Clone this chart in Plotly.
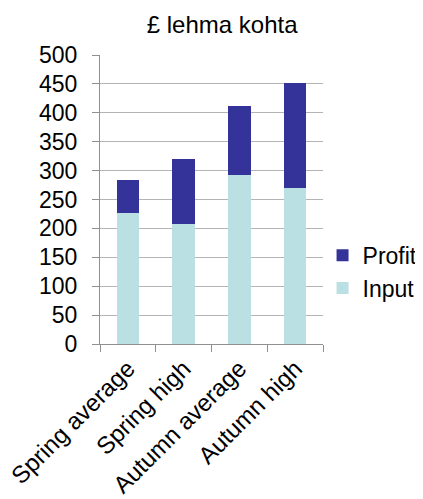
import plotly.graph_objects as go

categories = ["Spring average", "Spring high", "Autumn average", "Autumn high"]
input_vals = [226, 207, 292, 270]
profit_vals = [58, 113, 119, 182]
y_ticks = [0, 50, 100, 150, 200, 250, 300, 350, 400, 450, 500]

FONT = "Liberation Sans, Arial, sans-serif"

fig = go.Figure()
fig.add_trace(go.Bar(x=categories, y=input_vals, name="Input",
                     marker=dict(color="#BBE0E3", line=dict(width=0))))
fig.add_trace(go.Bar(x=categories, y=profit_vals, name="Profit",
                     marker=dict(color="#333399", line=dict(width=0))))

fig.update_layout(
    width=415, height=491,
    barmode="stack", bargap=0.6,
    paper_bgcolor="white", plot_bgcolor="white",
    margin=dict(l=92, r=100, t=47, b=155, autoexpand=False),
    font=dict(family=FONT, color="black"),
    title=dict(text="£ lehma kohta", x=0.516, xanchor="center", y=0.967, yanchor="middle",
               font=dict(size=24, family=FONT, color="black")),
    legend=dict(x=0.998, y=0.25, xanchor="left", yanchor="middle",
                font=dict(size=23, family=FONT), traceorder="reversed",
                itemwidth=30, tracegroupgap=0, borderwidth=0, bgcolor="rgba(0,0,0,0)"),
    showlegend=True,
)
fig.update_xaxes(
    showline=True, linecolor="#909090", linewidth=1,
    ticks="outside", ticklen=7, tickcolor="#909090", tickson="boundaries",
    tickangle=-45, tickfont=dict(size=24, family=FONT, color="black"),
    showgrid=False,
)
fig.update_yaxes(
    range=[0, 500], tickvals=y_ticks,
    showline=True, linecolor="#909090", linewidth=1,
    ticks="outside", ticklen=7, tickcolor="#909090",
    showgrid=True, gridcolor="#B4B4B4", gridwidth=1,
    tickfont=dict(size=23, family=FONT, color="black"),
    ticklabelstandoff=10,
    zeroline=False,
)
fig.write_html("out.html")
